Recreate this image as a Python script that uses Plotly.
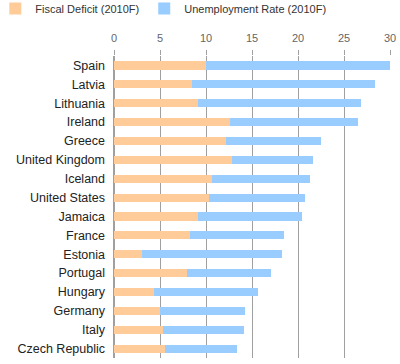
import plotly.graph_objects as go

countries = ["Spain", "Latvia", "Lithuania", "Ireland", "Greece", "United Kingdom",
             "Iceland", "United States", "Jamaica", "France", "Estonia", "Portugal",
             "Hungary", "Germany", "Italy", "Czech Republic"]
fiscal_deficit = [10.0, 8.5, 9.1, 12.6, 12.2, 12.8, 10.7, 10.3, 9.1, 8.3, 3.0, 7.9, 4.3, 5.0, 5.3, 5.5]
unemployment = [20.0, 19.9, 17.7, 13.9, 10.3, 8.8, 10.6, 10.5, 11.3, 10.2, 15.3, 9.2, 11.4, 9.2, 8.8, 7.9]
x_ticks = [0, 5, 10, 15, 20, 25, 30]

fig = go.Figure()
fig.add_trace(go.Bar(y=countries, x=fiscal_deficit, orientation="h",
                     name="Fiscal Deficit (2010F)", marker=dict(color="#FFCC99", line=dict(width=0))))
fig.add_trace(go.Bar(y=countries, x=unemployment, orientation="h",
                     name="Unemployment Rate (2010F)", marker=dict(color="#99CCFF", line=dict(width=0))))

fig.update_layout(
    barmode="stack",
    bargap=0.57,
    width=400, height=364,
    margin=dict(l=114, r=10, t=56, b=6, autoexpand=False),
    paper_bgcolor="white", plot_bgcolor="white",
    font=dict(family="Liberation Sans, Arial, sans-serif", color="#222"),
    legend=dict(orientation="h", x=-0.43, y=1.205,
                xanchor="left", yanchor="top", font=dict(size=11, color="#333"),
                traceorder="normal", bgcolor="rgba(0,0,0,0)"),
    showlegend=True,
)
fig.update_xaxes(side="top", range=[0, 30], tickvals=x_ticks, showgrid=True,
                 gridcolor="#A0A0A0", gridwidth=1, zeroline=True, zerolinecolor="#A0A0A0",
                 ticks="outside", ticklen=5, tickcolor="#A0A0A0", ticklabelstandoff=4,
                 tickfont=dict(size=11, color="#666"), fixedrange=True)
fig.update_yaxes(categoryorder="array", categoryarray=countries, autorange="reversed",
                 tickfont=dict(size=12.5, color="#222"), ticks="", ticklabelstandoff=8,
                 showgrid=False)

fig.write_html("out.html", config={"displayModeBar": False},
               post_script="document.body.style.margin='0';")
